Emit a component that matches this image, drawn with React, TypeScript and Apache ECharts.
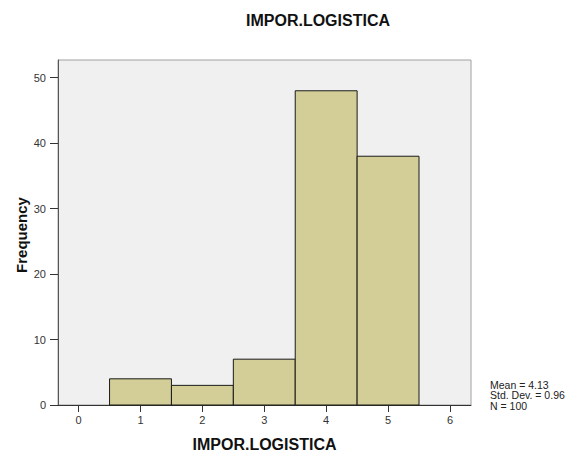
import React, { useEffect, useRef } from "react";
import * as echarts from "echarts";

const categories = [1, 2, 3, 4, 5];
const frequencies = [4, 3, 7, 48, 38];
const xTicks = [0, 1, 2, 3, 4, 5, 6];
const yTicks = [0, 10, 20, 30, 40, 50];
const statsLines = ["Mean = 4.13", "Std. Dev. = 0.96", "N = 100"];
const chartTitle = "IMPOR.LOGISTICA";
const xName = "IMPOR.LOGISTICA";
const yName = "Frequency";

export default function App() {
  const ref = useRef<HTMLDivElement>(null);
  useEffect(() => {
    if (!ref.current) return;
    const chart = echarts.init(ref.current, null, { renderer: "svg" });
    const font = "'Liberation Sans', Arial, sans-serif";
    const data = categories.map((c, i) => [c, frequencies[i]]);
    chart.setOption({
      animation: false,
      backgroundColor: "#ffffff",
      textStyle: { fontFamily: font },
      title: {
        text: chartTitle,
        left: 313,
        top: 7,
        textAlign: "center",
        textStyle: { fontFamily: font, fontWeight: "bold", fontSize: 16, color: "#111" },
      },
      grid: {
        left: 58,
        right: 96,
        top: 60,
        bottom: 47,
        show: true,
        backgroundColor: "#f0f0f0",
        borderColor: "#a0a0a0",
        borderWidth: 1,
      },
      xAxis: {
        type: "value",
        min: -0.333,
        max: 6.34,
        name: xName,
        nameLocation: "middle",
        nameGap: 31,
        nameTextStyle: { fontFamily: font, fontWeight: "bold", fontSize: 16, color: "#111" },
        axisLine: { show: true, onZero: false, lineStyle: { color: "#333", width: 1 } },
        axisTick: { show: true, length: 7, customValues: xTicks, lineStyle: { color: "#333" } },
        axisLabel: { customValues: xTicks, color: "#333", fontSize: 11, margin: 9, fontFamily: font },
        splitLine: { show: false },
      },
      yAxis: {
        type: "value",
        min: 0,
        max: 52.7,
        axisLine: { show: true, onZero: false, lineStyle: { color: "#555", width: 1 } },
        axisTick: { show: true, length: 8, customValues: yTicks, lineStyle: { color: "#333" } },
        axisLabel: { customValues: yTicks, color: "#333", fontSize: 11, margin: 12, fontFamily: font },
        splitLine: { show: false },
      },
      series: [
        {
          type: "custom",
          data,
          renderItem: (params: any, api: any) => {
            const x = api.value(0);
            const y = api.value(1);
            const p1 = api.coord([x - 0.5, y]);
            const p2 = api.coord([x + 0.5, 0]);
            return {
              type: "rect",
              shape: { x: p1[0], y: p1[1], width: p2[0] - p1[0], height: p2[1] - p1[1] },
              style: { fill: "#d3ce97", stroke: "#1a1a1a", lineWidth: 1 },
            };
          },
          encode: { x: 0, y: 1 },
        },
      ],
      graphic: [
        {
          type: "text",
          x: 21,
          y: 235,
          rotation: Math.PI / 2,
          style: {
            text: yName,
            fontFamily: font,
            fontWeight: "bold",
            fontSize: 15,
            fill: "#111",
            align: "center",
            verticalAlign: "middle",
          },
        },
        {
          type: "text",
          left: 490,
          top: 379,
          style: {
            text: statsLines.join("\n"),
            fontFamily: font,
            fontSize: 10.5,
            lineHeight: 10.5,
            fill: "#222",
          },
        },
      ],
    });
    return () => chart.dispose();
  }, []);
  return (
    <div
      ref={ref}
      style={{ position: "fixed", left: 0, top: 0, width: 567, height: 457 }}
    />
  );
}
